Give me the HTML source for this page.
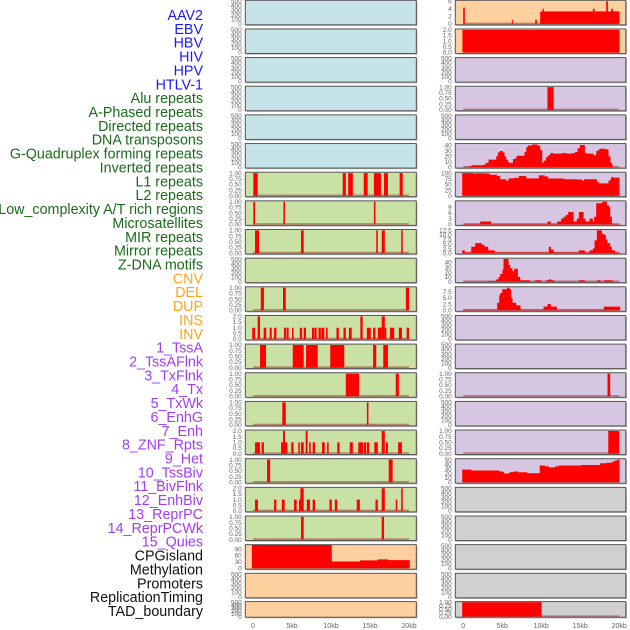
<!DOCTYPE html>
<html><head><meta charset="utf-8">
<style>
html,body{margin:0;padding:0;background:#fff;width:630px;height:630px;overflow:hidden}
svg{display:block}
text{font-family:"Liberation Sans",sans-serif}
</style></head>
<body>
<svg id="chart" width="630" height="630" viewBox="0 0 630 630"></svg>
<script>
// ---- track labels ----
const labelNames=["AAV2","EBV","HBV","HIV","HPV","HTLV-1","Alu repeats","A-Phased repeats","Directed repeats","DNA transposons","G-Quadruplex forming repeats","Inverted repeats","L1 repeats","L2 repeats","Low_complexity A/T rich regions","Microsatellites","MIR repeats","Mirror repeats","Z-DNA motifs","CNV","DEL","DUP","INS","INV","1_TssA","2_TssAFlnk","3_TxFlnk","4_Tx","5_TxWk","6_EnhG","7_Enh","8_ZNF_Rpts","9_Het","10_TssBiv","11_BivFlnk","12_EnhBiv","13_ReprPC","14_ReprPCWk","15_Quies","CPGisland","Methylation","Promoters","ReplicationTiming","TAD_boundary"];
const labelGroups=["v","v","v","v","v","v","r","r","r","r","r","r","r","r","r","r","r","r","r","s","s","s","s","s","c","c","c","c","c","c","c","c","c","c","c","c","c","c","c","o","o","o","o","o"];
const xTickLabels=["0","5kb","10kb","15kb","20kb"];
const xTickKb=[0,5,10,15,20];

// ---- left column bar tracks (start kb, end kb, value) ----
const L7s=[0.04,11.5,12.2,14.2,15.5,16.8,18.8], L7e=[0.6,11.9,12.8,14.7,16.4,17.3,19.2], L7v=[1,1,1,1,1,1,1];
const L8s=[0.04,3.9,15.5], L8e=[0.26,4.1,15.7], L8v=[1,1,1];
const L9s=[0.26,6.15,15.8,16.5,19.0], L9e=[0.77,6.5,16.0,16.9,19.2], L9v=[1,1,1,1,1];
const L11s=[1.0,3.85,19.6], L11e=[1.4,4.2,20.0], L11v=[1,1,1];
const L12s=[-0.1,0.6,1.37,2.14,2.7,3.97,4.3,5.0,6.0,6.5,7.56,7.9,8.4,8.76,9.36,10.7,11.6,12.3,13.76,14.6,15.4,16.0,16.5,16.9,17.56,18.7,19.7];
const L12e=[0.26,0.9,1.7,2.4,3.0,4.23,4.57,5.2,6.3,6.8,7.86,8.16,8.7,9.15,9.57,11.0,11.9,12.65,14.06,15.1,15.7,16.5,16.9,17.1,18.1,19.1,20.0];
const L12v=[1,2,1,1,1,1,1,1,1,1,1,1,1,1,1,1,1,1,2,1,1,1,2,1,1,1,1];
const L13s=[0.9,5.1,6.8,9.9,15.4,16.7], L13e=[1.67,6.5,8.3,11.7,15.8,17.3], L13v=[1,1,1,1,1,1];
const L14s=[11.9,18.3], L14e=[13.6,18.7], L14v=[1,1];
const L15s=[3.76,14.6], L15e=[4.2,14.8], L15v=[1,1];
const L16s=[0.26,1.1,3.6,3.85,4.9,5.8,6.15,6.75,7.2,7.65,8.85,9.5,10.8,12.4,13.5,14.2,14.6,15.55,16.5,17.05,18.6];
const L16e=[0.9,1.4,4.4,4.1,5.2,6.0,6.5,7.0,7.4,7.95,9.2,9.7,11.1,12.8,14.1,14.5,14.9,16.0,16.9,17.3,19.1];
const L16v=[1,1,1,2,1,1,1,2,1,1,1,1,1,1,1,1,1,1,2,1,1];
const L17s=[1.8,17.4], L17e=[2.2,17.9], L17v=[1,1];
const L18s=[0.26,2.7,3.7,5.26,5.9,6.07,6.9,7.65,9.8,10.5,13.3,15.7,16.5,18.3,19.0];
const L18e=[0.64,3.0,4.06,5.6,6.1,6.5,7.3,7.95,10.1,10.8,13.7,16.0,16.9,18.5,19.2];
const L18v=[1,1,1,1,1,2,1,1,1,1,1,1,2,1,2];
const L19s=[6.15,16.5], L19e=[6.5,16.8], L19v=[1,1];
// CPG island profile (edges kb, values)
const L20edges=[-0.13,10.1,13.7,16.0,17.3,20.1], L20vals=[110,32,37,42,38];

// ---- right column ----
const R1s=[0,6.24,9.23,9.87,10.17,16.62,18.33,18.97], R1e=[0.21,6.37,9.44,20.04,10.34,16.84,18.55,19.19], R1v=[4.3,1.1,1.1,3.3,4.0,4.0,6.0,4.0];
const R2s=[-0.1], R2e=[20.04], R2v=[2];
const R4s=[10.8], R4e=[11.6], R4v=[1];
const R6edges=[0,0.81,1.11,2.61,2.91,3.25,4.23,4.44,4.66,5.09,5.30,5.51,5.73,5.94,6.37,6.71,6.88,7.86,8.08,8.29,8.85,9.53,9.87,10.13,10.30,10.60,10.85,11.15,11.58,12.65,13.29,13.93,14.36,14.66,14.96,15.60,15.85,16.71,17.05,17.35,17.56,18.21,18.63,18.89,19.10,19.23];
const R6vals=[0.3,2,3.5,5,8,14,20,27,30,27,20,14,10,8,15,18,21,28,37,40,42,40,32,8,12,18,22,26,25,26,25,26,28,35,41,26,25,22,30,33,34,33,20,8,2];
const R7edges=[-0.13,1.32,3.03,3.46,4.32,4.74,5.51,5.81,6.45,7.14,8.08,9.70,10.47,10.90,12.95,14.57,15.26,15.51,17.14,17.39,18.63,18.93,19.27,20.04];
const R7vals=[100,99,97,93,88,73,67,77,79,87,77,90,85,76,73,72,67,73,60,55,68,82,80];
const R8edges=[0,2.18,3.59,10.81,11.24,12.05,12.56,12.86,13.16,13.46,14.15,14.57,14.83,15.43,15.68,16.20,16.62,16.79,17.05,17.82,18.42,18.68,18.85,19.06,20.04];
const R8vals=[0.3,1.5,0.3,1.5,0.3,1.5,3,4,5,6.5,1.5,3,6.5,3,1.5,3,1.5,4,11,11.8,10,9,4,0.3];
const R9edges=[-0.13,0.21,1.03,1.54,2.39,2.74,3.21,4.06,10.98,11.24,11.58,14.83,15.60,16.20,16.62,16.84,17.14,17.78,18.08,18.29,18.50,18.85,19.06,19.49,20.04];
const R9vals=[1.5,0.3,3.5,5.5,4.5,3.5,1.5,0.3,3.5,2,0.3,1.5,0.3,1.5,2.5,7,12.5,10.5,10,7.5,5.5,3.5,1.5,0.3];
const R10edges=[0,3.25,4.23,4.53,4.74,5.04,5.17,5.81,6.03,6.32,6.54,7.01,7.31,8.59,9.23,10.0,10.64,10.98,11.32,11.67,14.83,15.60,17.18,17.61,18.08,19.19,20.04];
const R10vals=[0.3,1.5,5,10,16,25,47,35,28,22,27,10,3,0.3,3,0.3,3,5,3,0.3,3,0.3,3,0.3,3,0.3];
const R11edges=[0,4.36,4.62,4.74,5.0,5.64,5.94,6.15,6.32,6.79,7.35,10.30,10.81,11.24,12.01,18.03,20.13];
const R11vals=[0.3,3,6,7,8.5,9.1,8.5,5,3,2,0.3,1.5,2.5,1.5,0.3,1.5];
const R14s=[18.5], R14e=[18.85], R14v=[1];
const R16s=[18.6], R16e=[20.0], R16v=[1];
const R17edges=[-0.13,1.02,4.61,5.07,5.25,5.80,6.06,6.57,6.99,8.19,9.81,10.49,11.0,11.77,12.20,15.10,17.57,18.42,19.10,19.45,19.79,20.04];
const R17vals=[28,26,24,22,19,21,23,24,22,20,37,35,33,35,37,38,42,43,46,48,50];
const R22s=[-0.13], R22e=[10.06], R22v=[1];

// ---- tick sets ----
const tEmpty=[0,100,200,300,400,500], t01=[0,0.25,0.5,0.75,1], t02=[0,0.5,1,1.5,2];

const COL={blue:"#c6e3ea",green:"#c9e1a5",orange:"#fed0a0",purple:"#d6c6e2",grey:"#d0d0d0"};
const E={type:"empty",max:500,ticks:tEmpty,dec:0};
function B(s,e,v,max,ticks,dec){return {type:"bars",s:s,e:e,v:v,max:max,ticks:ticks,dec:dec};}
function P(ed,va,max,ticks,dec){return {type:"prof",ed:ed,va:va,max:max,ticks:ticks,dec:dec};}

const leftCol=[
 ["blue",E],["blue",E],["blue",E],["blue",E],["blue",E],["blue",E],
 ["green",B(L7s,L7e,L7v,1,t01,2)],["green",B(L8s,L8e,L8v,1,t01,2)],["green",B(L9s,L9e,L9v,1,t01,2)],
 ["green",E],["green",B(L11s,L11e,L11v,1,t01,2)],["green",B(L12s,L12e,L12v,2,t02,1)],
 ["green",B(L13s,L13e,L13v,1,t01,2)],["green",B(L14s,L14e,L14v,1,t01,2)],["green",B(L15s,L15e,L15v,1,t01,2)],
 ["green",B(L16s,L16e,L16v,2,t02,1)],["green",B(L17s,L17e,L17v,1,t01,2)],["green",B(L18s,L18e,L18v,2,t02,1)],
 ["green",B(L19s,L19e,L19v,1,t01,2)],["orange",P(L20edges,L20vals,107,[0,30,60,90],0)],["orange",E],["orange",E]
];
const rightCol=[
 ["orange",B(R1s,R1e,R1v,6,[0,2,4,6],0)],["orange",B(R2s,R2e,R2v,2,t02,1)],["purple",E],
 ["purple",B(R4s,R4e,R4v,1,t01,2)],["purple",E],["purple",P(R6edges,R6vals,42,[0,10,20,30,40],0)],
 ["purple",P(R7edges,R7vals,100,[0,25,50,75,100],0)],["purple",P(R8edges,R8vals,11.8,[0,3,6,9],0)],
 ["purple",P(R9edges,R9vals,12.5,[0,2.5,5,7.5,10,12.5],1)],["purple",P(R10edges,R10vals,47,[0,10,20,30,40],0)],
 ["purple",P(R11edges,R11vals,9.1,[0,2.5,5,7.5],1)],["purple",E],["purple",E],
 ["purple",B(R14s,R14e,R14v,1,t01,2)],["purple",E],["purple",B(R16s,R16e,R16v,1,t01,2)],
 ["purple",P(R17edges,R17vals,50,[0,10,20,30,40,50],0)],["grey",E],["grey",E],["grey",E],["grey",E],
 ["grey",B(R22s,R22e,R22v,1,t01,2)]
];

const NS="http://www.w3.org/2000/svg";
const svg=document.getElementById("chart");
function mk(tag,attrs,parent){const el=document.createElementNS(NS,tag);for(const k in attrs)el.setAttribute(k,attrs[k]);(parent||svg).appendChild(el);return el;}

// labels
const labColor={v:"#1a1aff",r:"#1a6b1a",s:"#ffa514",c:"#a23cf5",o:"#111"};
labelNames.forEach((n,i)=>{
  const t=mk("text",{x:203,y:20+i*13.86,"text-anchor":"end","font-size":"14.3",fill:labColor[labelGroups[i]]});
  
  
  t.textContent=n;
});

function panelGeom(i){ if(i<21) return {top:i*28.65+0.3,h:24.5}; return {top:601.6,h:15.6}; }

function drawColumn(col,x0,x1,zeroX,colName){
  const xs=kb=>zeroX+kb*7.8;
  col.forEach((p,i)=>{
    const g=panelGeom(i), spec=p[1];
    const grp=mk("g",{});
    
    
    const lo=-0.04*spec.max, hi=1.04*spec.max;
    const ys=v=>g.top+g.h-(Math.min(v,hi)-lo)/(hi-lo)*g.h;
    mk("rect",{x:x0+1.2,y:g.top+1.2,width:x1-x0,height:g.h,fill:"#b5b5b5"},grp);
    const bg=mk("rect",{x:x0,y:g.top,width:x1-x0,height:g.h,fill:COL[p[0]]},grp);
    
    
    if(spec.type!=="empty"){
      const bl=mk("rect",{x:xs(0),y:ys(0)-1.3,width:xs(20)-xs(0),height:1.6,fill:"rgba(150,20,20,0.45)"},grp);
      
      
    }
    if(spec.type==="bars"){
      spec.s.forEach((s,j)=>{
        const a=xs(s), b=xs(spec.e[j]);
        const r=mk("rect",{x:a,y:ys(spec.v[j]),width:Math.max(1,b-a),height:ys(0)-ys(spec.v[j]),fill:"#ff0000"},grp);
        
        
      });
    } else if(spec.type==="prof"){
      let d="M"+xs(spec.ed[0])+","+ys(0);
      spec.va.forEach((v,j)=>{d+=" L"+xs(spec.ed[j])+","+ys(v)+" L"+xs(spec.ed[j+1])+","+ys(v);});
      d+=" L"+xs(spec.ed[spec.ed.length-1])+","+ys(0)+" Z";
      const pa=mk("path",{d:d,fill:"#ff0000"},grp);
      
      
    }
    const bd=mk("rect",{x:x0,y:g.top,width:x1-x0,height:g.h,fill:"none",stroke:"#555", "stroke-width":"1"},grp);
    
    
    spec.ticks.forEach(t=>{
      const tx=mk("text",{x:x0-3.5,y:ys(t)+2.2,"text-anchor":"end","font-size":"6.5",fill:"#666"},grp);
      
      
      tx.textContent=t.toFixed(spec.dec);
    });
  });
  xTickKb.forEach((k,j)=>{
    const tx=mk("text",{x:xs(k),y:628,"text-anchor":"middle","font-size":"7",fill:"#666"});
    
    
    tx.textContent=xTickLabels[j];
  });
}
drawColumn(leftCol,245.3,416.3,253,"left");
drawColumn(rightCol,455.3,625.8,463.2,"right");
</script>
</body></html>
